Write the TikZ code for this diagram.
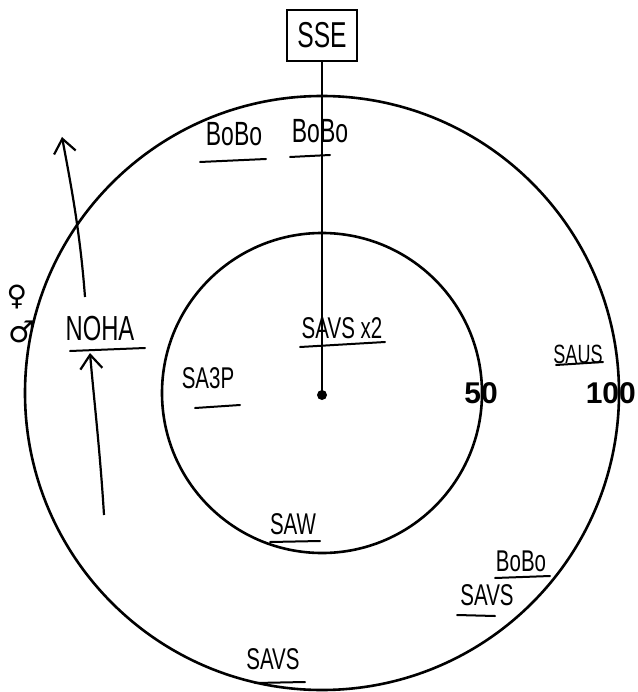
\documentclass[tikz,border=0pt]{standalone}
\usepackage{fontspec}
\setmainfont{Liberation Sans}
\newfontfamily\symfont{DejaVu Sans}
\usetikzlibrary{arrows.meta}
\newcommand{\hw}[1]{\scalebox{0.82}[1.2]{#1}}
\begin{document}
\begin{tikzpicture}[x=1pt,y=-1pt,
  ring/.style={line width=2.6pt, draw=black},
  hand/.style={font=\fontsize{25}{25}\selectfont, inner sep=0pt, text=black},
  ulin/.style={line width=2pt, line cap=round},
  num/.style={font=\fontsize{30}{30}\selectfont\bfseries, inner sep=0pt},
  arr/.style={line width=2.2pt, -{Straight Barb[length=14pt,width=22pt,line width=2.2pt]}}]
\useasboundingbox (0,0) rectangle (637,692);
% circles
\coordinate (c) at (322,393);
\draw[ring] (c) circle[radius=297];
\draw[ring] (c) circle[radius=160];
% box and stem
\node[draw, line width=1.6pt, minimum width=70pt, minimum height=51pt, inner sep=0pt,
  font=\fontsize{30}{30}\selectfont] (sse) at (322,35.5) {\hw{SSE}};
\fill (322,395) circle[radius=5] coordinate (dot);
\draw[line width=2pt] (sse.south) -- (dot);
% labels
\node[hand, font=\fontsize{28}{28}\selectfont] (b1) at (234,134) {\hw{BoBo}};
\draw[ulin] (200,162) -- (266,159);
\node[hand, font=\fontsize{28}{28}\selectfont] (b2) at (320,131) {\hw{BoBo}};
\draw[ulin] (290,157) -- (330,155);
\node[hand, font=\fontsize{29}{29}\selectfont] (noha) at (100,329) {\hw{NOHA}};
\draw[ulin] (70,351) -- (145,348);
\node[hand, font=\fontsize{28}{28}\selectfont\symfont] (fem) at (17,297) {♀};
\node[hand, font=\fontsize{30}{30}\selectfont\symfont] (mal) at (22,332) {♂};
\node[hand] (savs2) at (342,328) {\hw{SAVS x2}};
\draw[ulin] (300,347) -- (385,342);
\node[hand] (sa3p) at (208,378) {\hw{SA3P}};
\draw[ulin] (195,408) -- (240,405);
\node[hand, font=\fontsize{22}{22}\selectfont] (saus) at (578,354) {\hw{SAUS}};
\draw[ulin] (556,365) -- (603,362);
\node[hand] (saw) at (293,524) {\hw{SAW}};
\draw[ulin] (270,542) -- (320,541);
\node[hand] (bobo3) at (521,561) {\hw{BoBo}};
\draw[ulin] (495,578) -- (550,576);
\node[hand] (savs3) at (487,595) {\hw{SAVS}};
\draw[ulin] (457,615) -- (495,616);
\node[hand] (savs4) at (273,659) {\hw{SAVS}};
\draw[ulin] (255,683) -- (305,682);
% numbers
\node[num] (n50) at (481,393) {50};
\node[num, anchor=east] (n100) at (636,393) {100};
% arrows
\coordinate (a1s) at (85,297);
\coordinate (a1e) at (62,137);
\draw[arr] (a1s) .. controls (80,230) and (70,180) .. (a1e);
\coordinate (a2s) at (104,515);
\coordinate (a2e) at (90,353);
\draw[arr] (a2s) .. controls (100,450) and (94,400) .. (a2e);
\end{tikzpicture}
\end{document}
